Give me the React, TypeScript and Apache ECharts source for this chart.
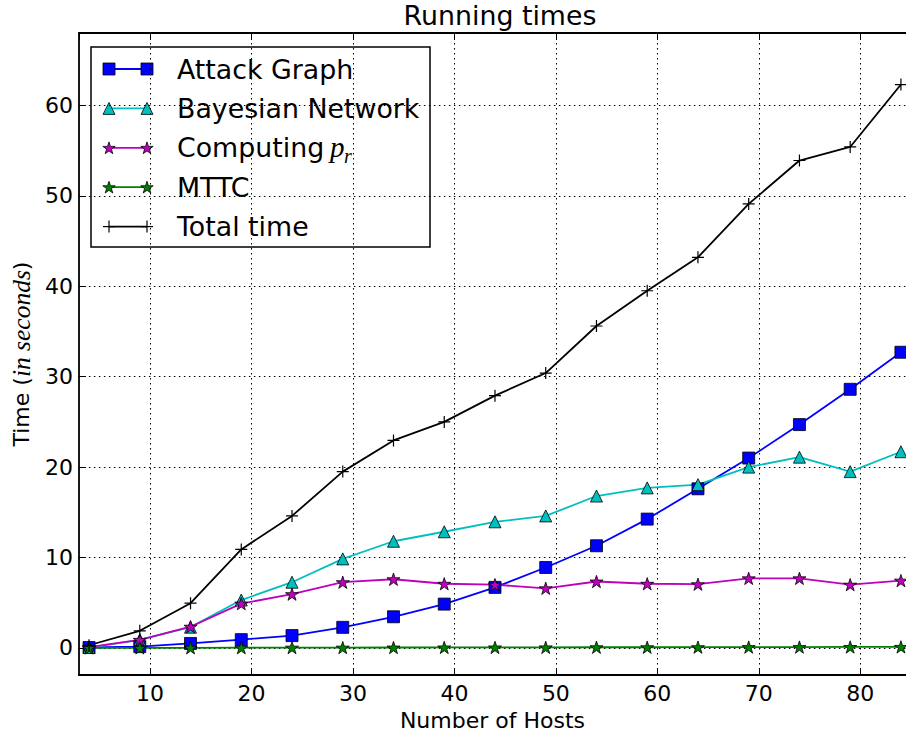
import React, { useEffect, useRef } from "react";
import * as echarts from "echarts";

// Number of hosts in each run
const hosts = [4, 9, 14, 19, 24, 29, 34, 39, 44, 49, 54, 59, 64, 69, 74, 79, 84];

// Running times in seconds for each stage
const attackGraph = [0.05, 0.15, 0.5, 0.92, 1.37, 2.28, 3.45, 4.85, 6.7, 8.9, 11.3, 14.25, 17.6, 21.0, 24.7, 28.6, 32.7];
const bayesianNetwork = [0.05, 0.9, 2.3, 5.3, 7.27, 9.85, 11.8, 12.85, 13.95, 14.6, 16.8, 17.7, 18.06, 20.0, 21.1, 19.5, 21.7];
const computingPr = [0.1, 0.9, 2.35, 4.9, 5.95, 7.27, 7.6, 7.1, 7.0, 6.6, 7.35, 7.1, 7.05, 7.7, 7.7, 7.0, 7.45];
const mttc = [0.0, 0.01, 0.02, 0.03, 0.04, 0.04, 0.05, 0.06, 0.06, 0.07, 0.08, 0.08, 0.09, 0.1, 0.1, 0.11, 0.12];
const totalTime = [0.3, 1.9, 4.95, 10.9, 14.6, 19.5, 22.95, 25.0, 27.9, 30.4, 35.6, 39.5, 43.2, 49.1, 53.9, 55.4, 62.3];

const seriesNames = ["Attack Graph", "Bayesian Network", "Computing", "MTTC", "Total time"];

const SANS = "DejaVu Sans";
const MATH = "Liberation Serif";

const BLUE = "#0000ff";
const CYAN = "#00bfbf";
const MAGENTA = "#bf00bf";
const GREEN = "#008000";
const BLACK = "#000000";

// five-pointed star, unit radius, inner radius 0.382
const STAR_UNIT: [number, number][] = [];
for (let k = 0; k < 10; k++) {
  const a = ((90 + 36 * k) * Math.PI) / 180;
  const r = k % 2 === 0 ? 1 : 0.382;
  STAR_UNIT.push([r * Math.cos(a), -r * Math.sin(a)]);
}
const STAR_PATH =
  "path://" +
  STAR_UNIT.map(([x, y], i) => `${i === 0 ? "M" : "L"}${((x + 1) * 50).toFixed(2)},${((y + 1) * 50).toFixed(2)}`).join(" ") +
  " Z";
const PLUS_PATH = "path://M45,0 L55,0 L55,100 L45,100 Z M0,45 L100,45 L100,55 L0,55 Z";

const pairs = (ys: number[]) => hosts.map((h, i) => [h, ys[i]]);

function lineSeries(name: string, ys: number[], color: string, symbol: string, size: number, bordered = true) {
  return {
    name,
    type: "line",
    data: pairs(ys),
    symbol,
    symbolSize: size,
    symbolKeepAspect: true,
    showAllSymbol: true,
    silent: true,
    lineStyle: { color, width: 1.8 },
    itemStyle: {
      color,
      borderColor: "#000",
      borderWidth: bordered ? 0.8 : 0,
      opacity: 1,
    },
    emphasis: { disabled: true },
  };
}

// legend drawn as a boxed list of line samples with end markers
function legendMarker(kind: string, cx: number, cy: number, color: string) {
  const edge = { stroke: "#000", lineWidth: 0.8 };
  if (kind === "square") {
    return { type: "rect", shape: { x: cx - 6, y: cy - 6, width: 12, height: 12 }, style: { fill: color, ...edge } };
  }
  if (kind === "triangle") {
    return {
      type: "polygon",
      shape: { points: [[cx, cy - 6], [cx - 6, cy + 6], [cx + 6, cy + 6]] },
      style: { fill: color, ...edge },
    };
  }
  if (kind === "star") {
    return {
      type: "polygon",
      shape: { points: STAR_UNIT.map(([x, y]) => [cx + x * 6.5, cy + y * 6.5 + 0.6]) },
      style: { fill: color, ...edge },
    };
  }
  return {
    type: "group",
    children: [
      { type: "line", shape: { x1: cx - 6, y1: cy, x2: cx + 6, y2: cy }, style: { stroke: BLACK, lineWidth: 1.2 } },
      { type: "line", shape: { x1: cx, y1: cy - 6, x2: cx, y2: cy + 6 }, style: { stroke: BLACK, lineWidth: 1.2 } },
    ],
  };
}

function buildLegend() {
  const box = { x: 91, y: 47, w: 339, h: 200 };
  const rowTop = 69;
  const rowStep = 39.4;
  const x1 = 109;
  const x2 = 147;
  const textX = 177;
  const entries = [
    { kind: "square", color: BLUE },
    { kind: "triangle", color: CYAN },
    { kind: "star", color: MAGENTA },
    { kind: "star", color: GREEN },
    { kind: "plus", color: BLACK },
  ];
  const children: any[] = [
    {
      type: "rect",
      shape: { x: box.x, y: box.y, width: box.w, height: box.h },
      style: { fill: "#fff", stroke: "#000", lineWidth: 1.5 },
    },
  ];
  entries.forEach((e, i) => {
    const y = rowTop + i * rowStep;
    children.push({ type: "line", shape: { x1, y1: y, x2, y2: y }, style: { stroke: e.color, lineWidth: 1.8 } });
    children.push(legendMarker(e.kind, x1, y, e.color));
    children.push(legendMarker(e.kind, x2, y, e.color));
    children.push({
      type: "text",
      x: textX,
      y,
      style: { text: seriesNames[i], fontFamily: SANS, fontSize: 26.8, fill: "#000", verticalAlign: "middle" },
    });
    if (i === 2) {
      children.push({
        type: "text",
        x: 330,
        y: y - 1,
        style: { text: "p", fontFamily: MATH, fontStyle: "italic", fontSize: 29, fill: "#000", verticalAlign: "middle" },
      });
      children.push({
        type: "text",
        x: 344,
        y: y + 8,
        style: { text: "r", fontFamily: MATH, fontStyle: "italic", fontSize: 20, fill: "#000", verticalAlign: "middle" },
      });
    }
  });
  return { type: "group", z: 100, children };
}

const tickFormatter = (v: number) => (Math.abs(v % 10) < 1e-9 ? String(v) : "");

export default function App() {
  const ref = useRef<HTMLDivElement>(null);

  useEffect(() => {
    document.body.style.margin = "0";
    if (!ref.current) return;
    const chart = echarts.init(ref.current, undefined, { renderer: "svg" });
    const gridLine = { show: true, lineStyle: { color: "#000", width: 1, type: [1.5, 3.5] as any }, showMinLine: false, showMaxLine: false };
    chart.setOption({
      animation: false,
      backgroundColor: "#fff",
      textStyle: { fontFamily: SANS },
      title: {
        text: "Running times",
        left: 495,
        top: -3,
        textAlign: "center",
        textStyle: { fontFamily: SANS, fontSize: 26.8, fontWeight: "normal", color: "#000" },
      },
      grid: { left: 77, top: 33, right: 0, bottom: 57, containLabel: false },
      xAxis: [
        {
          type: "value",
          min: 3,
          max: 84.5,
          minInterval: 10,
          maxInterval: 10,
          position: "bottom",
          name: "Number of Hosts",
          nameLocation: "middle",
          nameGap: 30,
          nameTextStyle: { fontFamily: SANS, fontSize: 22, color: "#000" },
          axisLine: { show: true, onZero: false, lineStyle: { color: "#000", width: 1.8 } },
          axisTick: { show: true, inside: true, length: 7, lineStyle: { color: "#000", width: 1 } },
          axisLabel: { formatter: tickFormatter, fontFamily: SANS, fontSize: 22, color: "#000", margin: 7, showMinLabel: false, showMaxLabel: false },
          splitLine: gridLine,
        },
        {
          type: "value",
          min: 3,
          max: 84.5,
          minInterval: 10,
          maxInterval: 10,
          position: "top",
          axisLine: { show: true, onZero: false, lineStyle: { color: "#000", width: 1.8 } },
          axisTick: { show: true, inside: true, length: 7, lineStyle: { color: "#000", width: 1 } },
          axisLabel: { show: false },
          splitLine: { show: false },
        },
      ],
      yAxis: {
        type: "value",
        min: -3,
        max: 68,
        minInterval: 10,
        maxInterval: 10,
        name: "Time ({i|in seconds})",
        nameLocation: "middle",
        nameRotate: 90,
        nameGap: 40,
        nameTextStyle: {
          fontFamily: SANS,
          fontSize: 22,
          color: "#000",
          rich: { i: { fontFamily: MATH, fontStyle: "italic", fontSize: 25.5, color: "#000" } },
        },
        axisLine: { show: true, onZero: false, lineStyle: { color: "#000", width: 1.8 } },
        axisTick: { show: true, inside: true, length: 7, lineStyle: { color: "#000", width: 1 } },
        axisLabel: { formatter: tickFormatter, fontFamily: SANS, fontSize: 22, color: "#000", margin: 6, showMinLabel: false, showMaxLabel: false },
        splitLine: gridLine,
      },
      series: [
        lineSeries(seriesNames[0], attackGraph, BLUE, "rect", 12),
        lineSeries(seriesNames[1], bayesianNetwork, CYAN, "triangle", 12),
        lineSeries("Computing p_r", computingPr, MAGENTA, STAR_PATH, 13),
        lineSeries(seriesNames[3], mttc, GREEN, STAR_PATH, 13),
        lineSeries(seriesNames[4], totalTime, BLACK, PLUS_PATH, 12, false),
      ],
      graphic: [buildLegend()],
    });
    return () => chart.dispose();
  }, []);

  return <div ref={ref} style={{ width: 906, height: 736 }} />;
}
